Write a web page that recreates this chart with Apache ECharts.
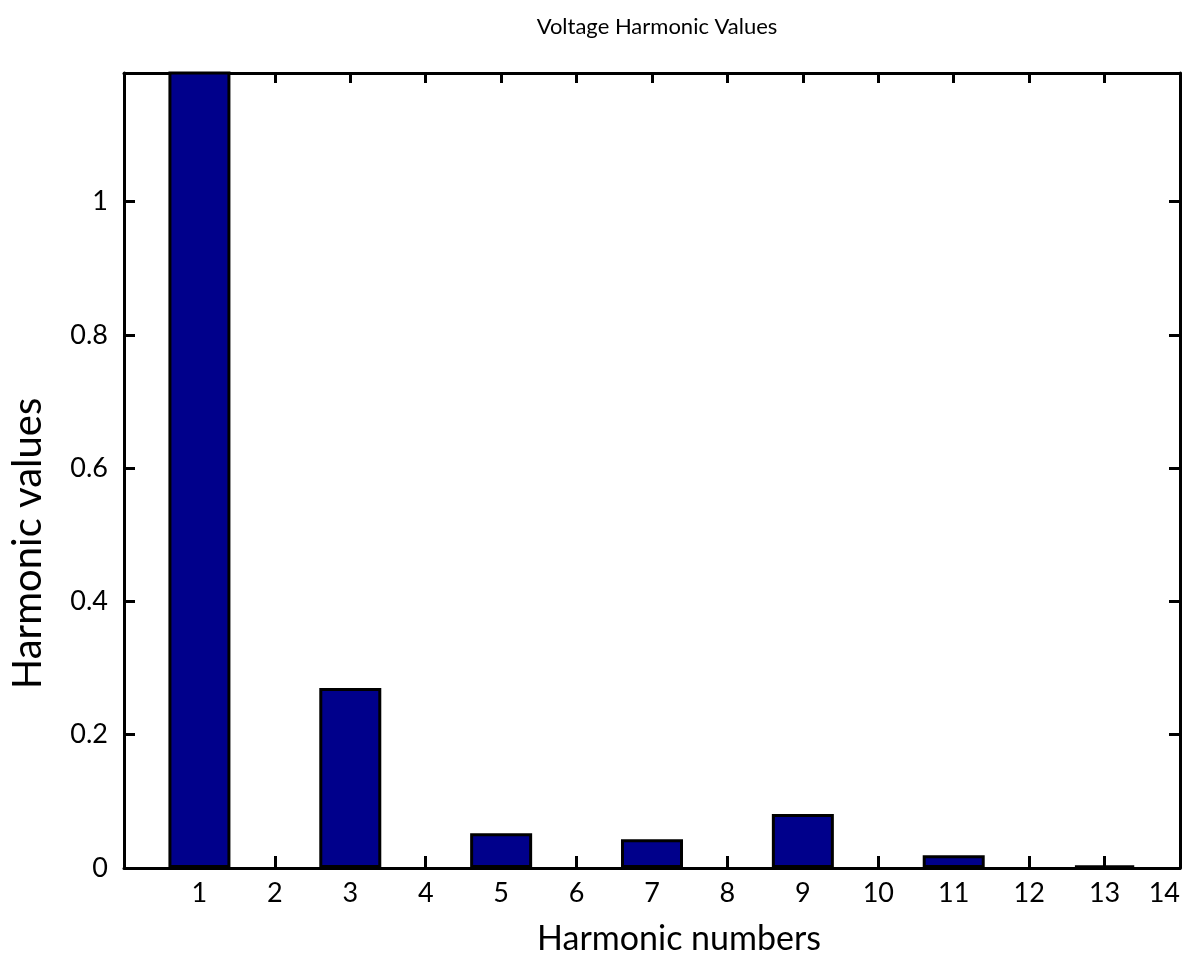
<!DOCTYPE html>
<html><head><meta charset="utf-8">
<script src="https://cdn.jsdelivr.net/npm/echarts@6/dist/echarts.min.js"></script>
<style>html,body{margin:0;padding:0;background:#fff}#c{width:1193px;height:964px}</style>
</head><body><div id="c"></div>
<script>
// Data
const harmonics = [1, 3, 5, 7, 9, 11, 13];
const harmonicValues = [1.25, 0.27, 0.052, 0.043, 0.081, 0.019, 0.004];
const xTickLabels = [1, 2, 3, 4, 5, 6, 7, 8, 9, 10, 11, 12, 13, 14];
const xTickMarks = [1, 2, 3, 4, 5, 6, 7, 8, 9, 10, 11, 12, 13];
const yTickLabels = [0, 0.2, 0.4, 0.6, 0.8, 1];
const yMax = 1.193;

const FONT = 'Lato';
const black = '#000';
const lineStyle = { color: black, width: 3 };

const chart = echarts.init(document.getElementById('c'), null, { renderer: 'canvas' });
chart.setOption({
  animation: false,
  backgroundColor: '#fff',
  title: {
    text: 'Voltage Harmonic Values',
    left: 652, top: 11, textAlign: 'center',
    textStyle: { fontFamily: FONT, fontSize: 22, fontWeight: 'normal', color: black }
  },
  grid: { left: 124, right: 13, top: 73, bottom: 96, containLabel: false },
  xAxis: [{
    type: 'value', min: 0, max: 14, position: 'bottom',
    axisLine: { show: true, onZero: false, lineStyle },
    axisTick: { show: true, inside: true, length: 12, lineStyle, customValues: xTickMarks },
    axisLabel: { color: black, fontFamily: FONT, fontSize: 27, margin: 12, customValues: xTickLabels, alignMaxLabel: 'right' },
    splitLine: { show: false },
    name: 'Harmonic numbers', nameLocation: 'middle', nameGap: 54,
    nameTextStyle: { fontFamily: FONT, fontSize: 34, color: black, padding: [0, 0, 0, 54] }
  }, {
    type: 'value', min: 0, max: 14, position: 'top',
    axisLine: { show: true, onZero: false, lineStyle },
    axisTick: { show: true, inside: true, length: 10, lineStyle, customValues: xTickMarks },
    axisLabel: { show: false },
    splitLine: { show: false }
  }],
  yAxis: [{
    type: 'value', min: 0, max: yMax, position: 'left',
    axisLine: { show: true, onZero: false, lineStyle },
    axisTick: { show: true, inside: true, length: 11, lineStyle, customValues: yTickLabels },
    axisLabel: { color: black, fontFamily: FONT, fontSize: 27, margin: 16, customValues: yTickLabels },
    splitLine: { show: false },
    name: 'Harmonic values', nameLocation: 'middle', nameGap: 76,
    nameTextStyle: { fontFamily: FONT, fontSize: 40, color: black, padding: [0, 146, 0, 0] }
  }, {
    type: 'value', min: 0, max: yMax, position: 'right',
    axisLine: { show: true, onZero: false, lineStyle },
    axisTick: { show: true, inside: true, length: 11, lineStyle, customValues: yTickLabels },
    axisLabel: { show: false },
    splitLine: { show: false }
  }],
  series: [{
    type: 'bar',
    xAxisIndex: 0, yAxisIndex: 0,
    barWidth: 62,
    clip: true,
    itemStyle: { color: '#00008B', borderColor: black, borderWidth: 3 },
    data: harmonics.map((h, i) => [h, harmonicValues[i]])
  }]
});
</script></body></html>
